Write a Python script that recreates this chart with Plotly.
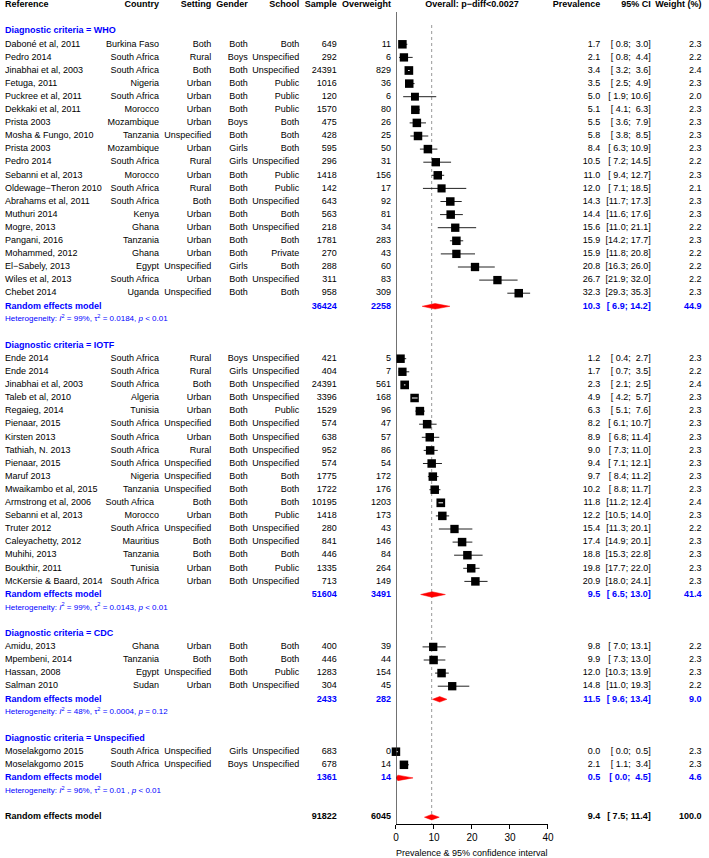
import plotly.graph_objects as go

FONT = "Liberation Sans, Arial, Helvetica, sans-serif"
BLUE = "#0000ff"

# reference, country, setting, gender, school, sample, overweight, prevalence, lower, upper, weight
WHO = [
    ("Daboné et al, 2011", "Burkina Faso", "Both", "Both", "Both", 649, 11, 1.7, 0.8, 3.0, 2.3),
    ("Pedro 2014", "South Africa", "Rural", "Boys", "Unspecified", 292, 6, 2.1, 0.8, 4.4, 2.2),
    ("Jinabhai et al, 2003", "South Africa", "Both", "Both", "Unspecified", 24391, 829, 3.4, 3.2, 3.6, 2.4),
    ("Fetuga, 2011", "Nigeria", "Urban", "Both", "Public", 1016, 36, 3.5, 2.5, 4.9, 2.3),
    ("Puckree et al, 2011", "South Africa", "Urban", "Both", "Public", 120, 6, 5.0, 1.9, 10.6, 2.0),
    ("Dekkaki et al, 2011", "Morocco", "Urban", "Both", "Public", 1570, 80, 5.1, 4.1, 6.3, 2.3),
    ("Prista 2003", "Mozambique", "Urban", "Boys", "Both", 475, 26, 5.5, 3.6, 7.9, 2.3),
    ("Mosha & Fungo, 2010", "Tanzania", "Unspecified", "Both", "Both", 428, 25, 5.8, 3.8, 8.5, 2.3),
    ("Prista 2003", "Mozambique", "Urban", "Girls", "Both", 595, 50, 8.4, 6.3, 10.9, 2.3),
    ("Pedro 2014", "South Africa", "Rural", "Girls", "Unspecified", 296, 31, 10.5, 7.2, 14.5, 2.2),
    ("Sebanni et al, 2013", "Morocco", "Urban", "Both", "Public", 1418, 156, 11.0, 9.4, 12.7, 2.3),
    ("Oldewage−Theron 2010", "South Africa", "Rural", "Both", "Public", 142, 17, 12.0, 7.1, 18.5, 2.1),
    ("Abrahams et al, 2011", "South Africa", "Both", "Both", "Unspecified", 643, 92, 14.3, 11.7, 17.3, 2.3),
    ("Muthuri 2014", "Kenya", "Urban", "Both", "Both", 563, 81, 14.4, 11.6, 17.6, 2.3),
    ("Mogre, 2013", "Ghana", "Urban", "Both", "Unspecified", 218, 34, 15.6, 11.0, 21.1, 2.2),
    ("Pangani, 2016", "Tanzania", "Urban", "Both", "Both", 1781, 283, 15.9, 14.2, 17.7, 2.3),
    ("Mohammed, 2012", "Ghana", "Urban", "Both", "Private", 270, 43, 15.9, 11.8, 20.8, 2.2),
    ("El−Sabely, 2013", "Egypt", "Unspecified", "Girls", "Both", 288, 60, 20.8, 16.3, 26.0, 2.2),
    ("Wiles et al, 2013", "South Africa", "Urban", "Both", "Unspecified", 311, 83, 26.7, 21.9, 32.0, 2.2),
    ("Chebet 2014", "Uganda", "Unspecified", "Both", "Both", 958, 309, 32.3, 29.3, 35.3, 2.3),
]

IOTF = [
    ("Ende 2014", "South Africa", "Rural", "Boys", "Unspecified", 421, 5, 1.2, 0.4, 2.7, 2.3),
    ("Ende 2014", "South Africa", "Rural", "Girls", "Unspecified", 404, 7, 1.7, 0.7, 3.5, 2.2),
    ("Jinabhai et al, 2003", "South Africa", "Both", "Both", "Unspecified", 24391, 561, 2.3, 2.1, 2.5, 2.4),
    ("Taleb et al, 2010", "Algeria", "Urban", "Both", "Unspecified", 3396, 168, 4.9, 4.2, 5.7, 2.3),
    ("Regaieg, 2014", "Tunisia", "Urban", "Both", "Public", 1529, 96, 6.3, 5.1, 7.6, 2.3),
    ("Pienaar, 2015", "South Africa", "Unspecified", "Both", "Unspecified", 574, 47, 8.2, 6.1, 10.7, 2.3),
    ("Kirsten 2013", "South Africa", "Urban", "Both", "Unspecified", 638, 57, 8.9, 6.8, 11.4, 2.3),
    ("Tathiah, N. 2013", "South Africa", "Rural", "Both", "Unspecified", 952, 86, 9.0, 7.3, 11.0, 2.3),
    ("Pienaar, 2015", "South Africa", "Unspecified", "Both", "Unspecified", 574, 54, 9.4, 7.1, 12.1, 2.3),
    ("Maruf 2013", "Nigeria", "Unspecified", "Both", "Both", 1775, 172, 9.7, 8.4, 11.2, 2.3),
    ("Mwaikambo et al, 2015", "Tanzania", "Unspecified", "Both", "Both", 1722, 176, 10.2, 8.8, 11.7, 2.3),
    ("Armstrong et al, 2006", "South Africa\u00a0\u00a0", "Both", "Both", "Both", 10195, 1203, 11.8, 11.2, 12.4, 2.4),
    ("Sebanni et al, 2013", "Morocco", "Urban", "Both", "Public", 1418, 173, 12.2, 10.5, 14.0, 2.3),
    ("Truter 2012", "South Africa", "Unspecified", "Both", "Unspecified", 280, 43, 15.4, 11.3, 20.1, 2.2),
    ("Caleyachetty, 2012", "Mauritius", "Both", "Both", "Unspecified", 841, 146, 17.4, 14.9, 20.1, 2.3),
    ("Muhihi, 2013", "Tanzania", "Both", "Both", "Both", 446, 84, 18.8, 15.3, 22.8, 2.3),
    ("Boukthir, 2011", "Tunisia", "Urban", "Both", "Public", 1335, 264, 19.8, 17.7, 22.0, 2.3),
    ("McKersie & Baard, 2014", "South Africa", "Urban", "Both", "Unspecified", 713, 149, 20.9, 18.0, 24.1, 2.3),
]

CDC = [
    ("Amidu, 2013", "Ghana", "Urban", "Both", "Both", 400, 39, 9.8, 7.0, 13.1, 2.2),
    ("Mpembeni, 2014", "Tanzania", "Both", "Both", "Both", 446, 44, 9.9, 7.3, 13.0, 2.3),
    ("Hassan, 2008", "Egypt", "Unspecified", "Both", "Public", 1283, 154, 12.0, 10.3, 13.9, 2.3),
    ("Salman 2010", "Sudan", "Urban", "Both", "Unspecified", 304, 45, 14.8, 11.0, 19.3, 2.2),
]

UNSPEC = [
    ("Moselakgomo 2015", "South Africa", "Unspecified", "Girls", "Unspecified", 683, 0, 0.0, 0.0, 0.5, 2.3),
    ("Moselakgomo 2015", "South Africa", "Unspecified", "Boys", "Unspecified", 678, 14, 2.1, 1.1, 3.4, 2.3),
]

GROUP_LABELS = ["WHO", "IOTF", "CDC", "Unspecified"]
GROUP_SAMPLE = [36424, 51604, 2433, 1361]
GROUP_EVENTS = [2258, 3491, 282, 14]
GROUP_PREV = [10.3, 9.5, 11.5, 0.5]
GROUP_LOWER = [6.9, 6.5, 9.6, 0.0]
GROUP_UPPER = [14.2, 13.0, 13.4, 4.5]
GROUP_WEIGHT = [44.9, 41.4, 9.0, 4.6]
GROUP_I2 = ["99%", "99%", "48%", "96%"]
GROUP_TAU2 = ["0.0184", "0.0143", "0.0004", "0.01\u00a0"]
GROUP_P = ["&lt; 0.01", "&lt; 0.01", "= 0.12", "&lt; 0.01"]

TOTAL_SAMPLE = 91822
TOTAL_EVENTS = 6045
TOTAL_PREV = 9.4
TOTAL_LOWER = 7.5
TOTAL_UPPER = 11.4
TOTAL_WEIGHT = 100.0
TOTAL_I2 = "99%"
TOTAL_TAU2 = "0.0126"
TOTAL_P = "&lt; 0.01"

HEADERS = ["Reference", "Country", "Setting", "Gender", "School", "Sample", "Overweight",
           "Overall: p−diff&lt;0.0027", "Prevalence", "95% CI", "Weight (%)"]

# layout (pixels)
W, H = 709, 858
ROW0, STEP = 5.0, 13.1
AX_BOTTOM = 824
X0_PX, X40_PX = 398, 552
PX_PER_UNIT = (X40_PX - X0_PX) / 40
COLS = {"ref": 2, "country": 158, "setting": 211, "gender": 248, "school": 300,
        "sample": 338, "events": 393, "prev": 605, "ci": 656, "weight": 707.5}
HEADER_X = [2, 158, 211, 248, 300, 338, 393, (X0_PX + X40_PX) / 2, 605, 656, 707.5]
HEADER_POS = ["middle right"] + ["middle left"] * 6 + ["middle center"] + ["middle left"] * 3
SQ = 8.5
DIA_H = 0.21


def nb(s):
    return s.replace(" ", "\u00a0")


def ci_text(lo, hi):
    return "[" + nb(f"{lo:4.1f}") + "; " + nb(f"{hi:4.1f}") + "]"


cells = {k: [] for k in COLS}
het = []
studies = []
diamonds = []

row = 2
for gi, group in enumerate([WHO, IOTF, CDC, UNSPEC]):
    cells["ref"].append((row, f"<b>Diagnostic criteria = {GROUP_LABELS[gi]}</b>", BLUE))
    row += 1
    for s in group:
        ref, country, setting, gender, school, n, ev, p, lo, hi, w = s
        for key, val in zip(["ref", "country", "setting", "gender", "school", "sample", "events"],
                            [ref, country, setting, gender, school, n, ev]):
            cells[key].append((row, str(val), "black"))
        cells["prev"].append((row, f"{p:.1f}", "black"))
        cells["ci"].append((row, ci_text(lo, hi), "black"))
        cells["weight"].append((row, f"{w:.1f}", "black"))
        studies.append((row, p, lo, hi, w))
        row += 1
    cells["ref"].append((row, "<b>Random effects model</b>", BLUE))
    cells["sample"].append((row, f"<b>{GROUP_SAMPLE[gi]}</b>", BLUE))
    cells["events"].append((row, f"<b>{GROUP_EVENTS[gi]}</b>", BLUE))
    cells["prev"].append((row, f"<b>{GROUP_PREV[gi]:.1f}</b>", BLUE))
    cells["ci"].append((row, "<b>" + ci_text(GROUP_LOWER[gi], GROUP_UPPER[gi]) + "</b>", BLUE))
    cells["weight"].append((row, f"<b>{GROUP_WEIGHT[gi]:.1f}</b>", BLUE))
    diamonds.append((row, GROUP_PREV[gi], GROUP_LOWER[gi], GROUP_UPPER[gi]))
    row += 1
    het.append((row, f"Heterogeneity: <i>I</i><sup>2</sup> = {GROUP_I2[gi]}, τ<sup>2</sup> = {GROUP_TAU2[gi]}, <i>p</i> {GROUP_P[gi]}", BLUE))
    row += 2

cells["ref"].append((row, "<b>Random effects model</b>", "black"))
cells["sample"].append((row, f"<b>{TOTAL_SAMPLE}</b>", "black"))
cells["events"].append((row, f"<b>{TOTAL_EVENTS}</b>", "black"))
cells["prev"].append((row, f"<b>{TOTAL_PREV:.1f}</b>", "black"))
cells["ci"].append((row, "<b>" + ci_text(TOTAL_LOWER, TOTAL_UPPER) + "</b>", "black"))
cells["weight"].append((row, f"<b>{TOTAL_WEIGHT:.1f}</b>", "black"))
diamonds.append((row, TOTAL_PREV, TOTAL_LOWER, TOTAL_UPPER))
het.append((row + 1, f"Heterogeneity: <i>I</i><sup>2</sup> = {TOTAL_I2}, τ<sup>2</sup> = {TOTAL_TAU2}, <i>p</i> {TOTAL_P}", "black"))

fig = go.Figure()

# confidence interval lines
cx, cy = [], []
for r, p, lo, hi, w in studies:
    cx += [lo, hi, None]
    cy += [r, r, None]
fig.add_trace(go.Scatter(x=cx, y=cy, mode="lines", line=dict(color="#222", width=1),
                         hoverinfo="skip", cliponaxis=False))

# squares
fig.add_trace(go.Scatter(
    x=[s[1] for s in studies], y=[s[0] for s in studies], mode="markers",
    marker=dict(symbol="square", color="black", opacity=1,
                size=[SQ * (s[4] / 2.3) ** 0.5 for s in studies], line=dict(width=0)),
    hoverinfo="skip", cliponaxis=False))

# CI drawn in white where it lies inside the square
half = SQ / 2 / PX_PER_UNIT
wx, wy = [], []
for r, p, lo, hi, w in studies:
    if p - lo < half and hi - p < half:
        wx += [lo, hi, None]
        wy += [r, r, None]
fig.add_trace(go.Scatter(x=wx, y=wy, mode="lines", line=dict(color="white", width=1),
                         hoverinfo="skip", cliponaxis=False))

# diamonds
for r, p, lo, hi in diamonds:
    fig.add_trace(go.Scatter(x=[lo, p, hi, p, lo], y=[r, r - DIA_H, r, r + DIA_H, r],
                             mode="lines", fill="toself", fillcolor="#ff0000",
                             line=dict(color="#ff0000", width=0.5), hoverinfo="skip",
                             cliponaxis=False))

# text columns
for key, xpx in COLS.items():
    items = cells[key]
    fig.add_trace(go.Scatter(
        x=[xpx] * len(items), y=[it[0] for it in items], text=[it[1] for it in items],
        mode="text", textposition="middle right" if key == "ref" else "middle left",
        textfont=dict(family=FONT, size=9, color=[it[2] for it in items]),
        xaxis="x2", yaxis="y", hoverinfo="skip", cliponaxis=False))

fig.add_trace(go.Scatter(
    x=[COLS["ref"]] * len(het), y=[h[0] for h in het], text=[h[1] for h in het],
    mode="text", textposition="middle right",
    textfont=dict(family=FONT, size=8, color=[h[2] for h in het]),
    xaxis="x2", yaxis="y", hoverinfo="skip", cliponaxis=False))

fig.add_trace(go.Scatter(
    x=HEADER_X, y=[0] * len(HEADERS), text=[f"<b>{h}</b>" for h in HEADERS],
    mode="text", textposition=HEADER_POS,
    textfont=dict(family=FONT, size=9, color="black"),
    xaxis="x2", yaxis="y", hoverinfo="skip", cliponaxis=False))

y_bottom = (AX_BOTTOM - ROW0) / STEP
y_top = -ROW0 / STEP

fig.add_shape(type="line", xref="x", yref="y", x0=0, x1=0, y0=(12 - ROW0) / STEP, y1=y_bottom,
              line=dict(color="#333", width=1.5))
fig.add_shape(type="line", xref="x", yref="y", x0=TOTAL_PREV, x1=TOTAL_PREV,
              y0=(25 - ROW0) / STEP, y1=y_bottom, line=dict(color="#999", width=1, dash="dot"),
              layer="below")

fig.add_annotation(text="Prevalence & 95% confidence interval", xref="x", yref="paper",
                   x=20, y=(H - 853) / H, yanchor="middle", showarrow=False,
                   font=dict(family=FONT, size=9, color="black"))

fig.update_layout(
    width=W, height=H,
    margin=dict(l=0, r=0, t=0, b=0),
    paper_bgcolor="white", plot_bgcolor="rgba(0,0,0,0)",
    showlegend=False,
    font=dict(family=FONT, size=9, color="black"),
    xaxis=dict(domain=[X0_PX / W, X40_PX / W], range=[0, 40], tickvals=[0, 10, 20, 30, 40],
               showline=True, linecolor="black", linewidth=1, ticks="outside", ticklen=4,
               tickcolor="black", tickfont=dict(size=10, family=FONT), showgrid=False,
               zeroline=False, anchor="y", fixedrange=True),
    xaxis2=dict(domain=[0, 1], range=[0, W], visible=False, anchor="y", fixedrange=True),
    yaxis=dict(domain=[(H - AX_BOTTOM) / H, 1], range=[y_bottom, y_top], visible=False,
               fixedrange=True),
)

# the page body has a default 8px margin; remove it so the figure sits at the window corner
fig.write_html("out.html", config={"displayModeBar": False},
               post_script="document.body.style.margin='0';")
